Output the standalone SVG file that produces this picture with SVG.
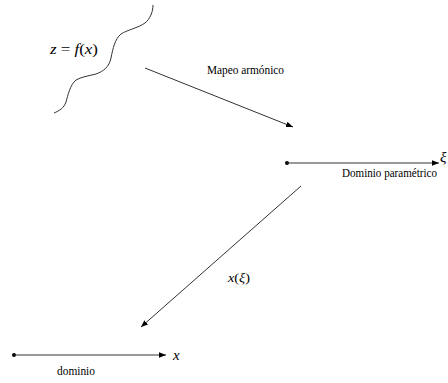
<svg xmlns="http://www.w3.org/2000/svg" width="448" height="383" viewBox="0 0 448 383">
<style>
.ln{stroke:#333;stroke-width:1;fill:none}
text{font-family:"Liberation Serif","Times New Roman",Tinos,"DejaVu Serif",serif;fill:#000}
.t{font-size:12px}
.m{font-size:15px}
.i{font-style:italic}
</style>
<defs>
<marker id="ah" viewBox="0 0 10 10" refX="10" refY="5" markerWidth="7" markerHeight="7" markerUnits="userSpaceOnUse" orient="auto">
<path d="M0,1 L10,5 L0,9 Z" fill="#000"/>
</marker>
</defs>
<g id="surface">
<path class="ln" d="M153,5 C153,12 150,19 145,23 C138,28 127,30 121,34 C115,39 113,48 111,58 C109,67 104,71 96,74 C88,76 81,77 76,80 C70,85 68,95 66,102 C64,108 59,111 54,113"/>
<text class="m" x="50" y="54" textLength="48" lengthAdjust="spacingAndGlyphs"><tspan class="i">z</tspan> = <tspan class="i">f</tspan>(<tspan class="i">x</tspan>)</text>
</g>
<g id="param-domain">
<circle cx="287" cy="163" r="2" fill="#000"/>
<text class="m i" x="440" y="162" font-size="14">ξ</text>
<text class="t" x="342" y="177" textLength="95" lengthAdjust="spacingAndGlyphs">Dominio paramétrico</text>
</g>
<g id="domain">
<circle cx="14" cy="355" r="2" fill="#000"/>
<text class="m i" x="173" y="360">x</text>
<text class="t" x="57" y="375" textLength="38" lengthAdjust="spacingAndGlyphs">dominio</text>
</g>
<g id="connectors">
<line class="ln" x1="145" y1="68" x2="293" y2="127" marker-end="url(#ah)"/>
<text class="t" x="207" y="74" textLength="77" lengthAdjust="spacingAndGlyphs">Mapeo armónico</text>
<line class="ln" x1="287" y1="163" x2="439" y2="163" marker-end="url(#ah)"/>
<line class="ln" x1="301" y1="186" x2="141" y2="327" marker-end="url(#ah)"/>
<text class="t" x="228" y="282" textLength="22" lengthAdjust="spacingAndGlyphs"><tspan class="i">x</tspan>(<tspan class="i">ξ</tspan>)</text>
<line class="ln" x1="14" y1="355" x2="166" y2="355" marker-end="url(#ah)"/>
</g>
</svg>
